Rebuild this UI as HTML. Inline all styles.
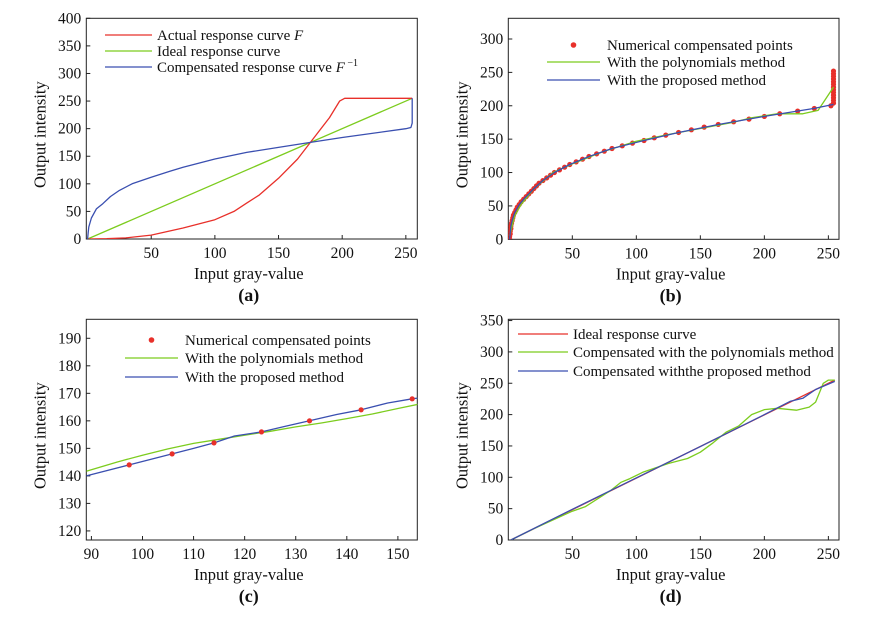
<!DOCTYPE html>
<html><head><meta charset="utf-8"><style>
body{margin:0;background:#fff;}
svg text{font-family:"Liberation Serif",serif;fill:#111;}
</style></head><body>
<svg id="fig" width="882" height="624" viewBox="0 0 882 624" xmlns="http://www.w3.org/2000/svg"></svg>
<script>
// Panel (a)
const aRedX=[0,15,30,50,75,100,115,125,135,150,165,175,190,198,202,255];
const aRedY=[0,0.5,2,7,20,35,50,65,80,110,145,175,220,250,255,255];
const aGreenX=[0,255];
const aGreenY=[0,255];
const aBlueX=[0,0.5,1,3,7,12,18,25,35,50,65,75,100,125,150,175,200,250,254,255,255];
const aBlueY=[0,12,22,38,55,64,77,88,100,112,123,130,145,157,166,175,184,200,202,210,255];
// Panel (b)
const bPtX=[1,1,1.5,1.5,2,2,2.5,3,3.5,4,5,6,7,8.5,10,12,14,16,18,20,22,24,27,30,33,36,40,44,48,53,58,63,69,75,81,89,97,106,114,123,133,143,153,164,176,188,200,212,226,239,252,254,254,254,254,254,254,254,254,254,254,254,254,254];
const bPtY=[0,4,8,12,16,20,24,28,32,36,40,44,48,52,56,60,64,68,72,76,80,84,88,92,96,100,104,108,112,116,120,124,128,132,136,140,144,148,152,156,160,164,168,172,176,180,184,188,192,196,200,204,208,212,216,220,224,228,232,236,240,244,248,252];
const bGreenX=[1,5,10,20,35,50,75,100,125,150,175,190,210,230,242,254];
const bGreenY=[5,35,52,76,100,113,132,147,157,166,175,182,188,188,193,228];
const bBlueX=[1,2,3,5,8.5,12,16,20,27,36,48,63,81,106,133,164,200,239,254];
const bBlueY=[0,20,28,40,52,60,68,76,88,100,112,124,136,148,160,172,184,196,202];
// Panel (c)
const cPtX=[97.4,105.8,114,123.3,132.7,142.8,152.8];
const cPtY=[144,148,152,156,160,164,168];
const cBlueX=[89,97.4,105.8,110,114,118,123.3,128,132.7,138,142.8,148,152.8,154];
const cBlueY=[140,144,148,150,152,154.5,156,158,160,162.3,164,166.5,168,168.3];
const cGreenX=[89,95,100,105,110,115,120,125,130,135,140,145,150,154];
const cGreenY=[141.7,145,147.5,149.8,151.8,153.3,154.8,156.2,157.8,159.2,160.8,162.5,164.5,166];
// Panel (d)
const dRedX=[2,255];
const dRedY=[0,255];
const dBlueX=[2,50,100,150,200,220,230,240,255];
const dBlueY=[0,49,99,149,200,221,226,240,253];
const dGreenX=[2,20,50,60,80,88,95,105,115,125,140,150,160,170,180,190,200,210,225,235,240,246,250,255];
const dGreenY=[0,18,46,53,79,92,98,108,115,122,130,140,155,172,182,200,208,210,207,212,220,250,255,255];
// ticks
const xTicksFull=[50,100,150,200,250];
const xTicksC=[90,100,110,120,130,140,150];
const yTicksA=[0,50,100,150,200,250,300,350,400];
const yTicksB=[0,50,100,150,200,250,300];
const yTicksC=[120,130,140,150,160,170,180,190];
const yTicksD=[0,50,100,150,200,250,300,350];

const svg=document.getElementById('fig');
const NS='http://www.w3.org/2000/svg';
function mk(tag,attrs,parent){const e=document.createElementNS(NS,tag);for(const k in attrs)e.setAttribute(k,attrs[k]);(parent||svg).appendChild(e);return e;}
const RED='#e8302a',GREEN='#7ccc1e',BLUE='#3a4fb0';

function panel(id,box,xd,yd,xt,yt,label){
  const g=mk('g',{});
  
  
  const sx=v=>box.l+(v-xd[0])/(xd[1]-xd[0])*(box.r-box.l);
  const sy=v=>box.b-(v-yd[0])/(yd[1]-yd[0])*(box.b-box.t);
  const fr=mk('rect',{x:box.l,y:box.t,width:box.r-box.l,height:box.b-box.t,fill:'none',stroke:'#222','stroke-width':1},g);
  
  
  xt.forEach(v=>{const x=sx(v);mk('line',{x1:x,x2:x,y1:box.b,y2:box.b-4,stroke:'#222'},g);
    const t=mk('text',{x:x,y:box.b+19,'font-size':15.5,'text-anchor':'middle'},g);t.textContent=v;
    });
  yt.forEach(v=>{const y=sy(v);mk('line',{x1:box.l,x2:box.l+4,y1:y,y2:y,stroke:'#222'},g);
    const t=mk('text',{x:box.l-5,y:y+5,'font-size':15.5,'text-anchor':'end'},g);t.textContent=v;
    });
  const xl=mk('text',{x:(box.l+box.r)/2-3,y:box.b+40,'font-size':16.5,'text-anchor':'middle'},g);xl.textContent='Input gray-value';
  
  const cy=(box.t+box.b)/2+6;const yl=mk('text',{x:0,y:0,'font-size':16.5,'text-anchor':'middle',transform:`translate(${box.l-41},${cy}) rotate(-90)`},g);yl.textContent='Output intensity';
  
  const pl=mk('text',{x:(box.l+box.r)/2-3,y:box.b+62,'font-size':18,'font-weight':'bold','text-anchor':'middle'},g);pl.textContent=label;
  
  const cid='clip'+id;const cp=mk('clipPath',{id:cid},g);mk('rect',{x:box.l,y:box.t,width:box.r-box.l,height:box.b-box.t},cp);
  const pg=mk('g',{'clip-path':`url(#${cid})`},g);
  return {
    line(xs,ys,col,name){const d=xs.map((v,i)=>(i?'L':'M')+sx(v).toFixed(1)+','+sy(ys[i]).toFixed(1)).join('');
      const p=mk('path',{d:d,fill:'none',stroke:col,'stroke-width':1.3,'stroke-linejoin':'round'},pg);},
    pts(xs,ys,name){xs.forEach((v,i)=>{const c=mk('circle',{cx:sx(v),cy:sy(ys[i]),r:2.6,fill:RED},pg);});},
    legend(items,x0,x1,tx,ys){items.forEach((it,i)=>{
      if(it[1]==='pt'){const c=mk('circle',{cx:(x0+x1)/2,cy:ys[i],r:2.8,fill:RED},g);}
      else{const l=mk('line',{x1:x0,x2:x1,y1:ys[i],y2:ys[i],stroke:it[1],'stroke-width':1.3},g);}
      const t=mk('text',{x:tx,y:ys[i]+5,'font-size':15},g);t.innerHTML=it[0];
      });}
  };
}
// (a)
let A=panel('a',{l:86.3,r:417.3,t:18.3,b:239},[-1,259],[0,400],xTicksFull,yTicksA,'(a)');
A.line(aGreenX,aGreenY,GREEN,'ideal-curve');
A.line(aRedX,aRedY,RED,'actual-curve');
A.line(aBlueX,aBlueY,BLUE,'compensated-curve');
A.legend([['Actual response curve <tspan font-style="italic">F</tspan>',RED],['Ideal response curve',GREEN],['Compensated response curve <tspan font-style="italic">F</tspan><tspan font-size="10" dy="-6"> −1</tspan>',BLUE]],105,152,157,[35,51,67]);
// (b)
let B=panel('b',{l:508.3,r:839,t:18.3,b:239.3},[0,258.3],[0,331],xTicksFull,yTicksB,'(b)');
B.pts(bPtX,bPtY,'numerical-point');
B.line(bGreenX,bGreenY,GREEN,'polynomial-curve');
B.line(bBlueX,bBlueY,BLUE,'proposed-curve');
B.legend([['Numerical compensated points','pt'],['With the polynomials method',GREEN],['With the proposed method',BLUE]],547,600,607,[45,62,80]);
// (c)
let C=panel('c',{l:86.3,r:417.3,t:319.3,b:540},[89,153.8],[116.7,196.9],xTicksC,yTicksC,'(c)');
C.line(cGreenX,cGreenY,GREEN,'polynomial-curve');
C.line(cBlueX,cBlueY,BLUE,'proposed-curve');
C.pts(cPtX,cPtY,'numerical-point');
C.legend([['Numerical compensated points','pt'],['With the polynomials method',GREEN],['With the proposed method',BLUE]],125,178,185,[340,358,377]);
// (d)
let D=panel('d',{l:508.3,r:839,t:319.3,b:540},[0,258.3],[0,352],xTicksFull,yTicksD,'(d)');
D.line(dRedX,dRedY,RED,'ideal-curve');
D.line(dGreenX,dGreenY,GREEN,'polynomial-compensated-curve');
D.line(dBlueX,dBlueY,BLUE,'proposed-compensated-curve');
D.legend([['Ideal response curve',RED],['Compensated with the polynomials method',GREEN],['Compensated withthe proposed method',BLUE]],518,568,573,[334,352,371]);
</script>
</body></html>
